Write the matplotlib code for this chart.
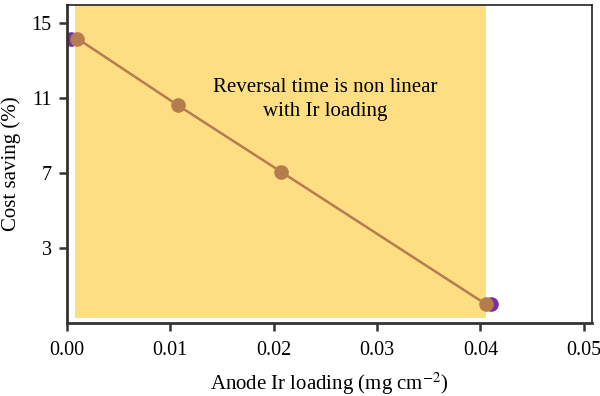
import matplotlib.pyplot as plt
from matplotlib.patches import Rectangle

# data
loading = [0.0010, 0.0107, 0.0207, 0.0405]
saving = [14.15, 10.6, 7.05, 0.0]
end_loading = [0.0004, 0.0410]
end_saving = [14.15, 0.0]
yticks = [3, 7, 11, 15]
xticks = [0.00, 0.01, 0.02, 0.03, 0.04, 0.05]

plt.rcParams['font.family'] = ['Liberation Serif', 'DejaVu Serif']
plt.rcParams['mathtext.fontset'] = 'stix'

fig = plt.figure(figsize=(6, 3.96), dpi=100)
ax = fig.add_axes([0.1117, 0.185, 0.875, 0.803])

ax.add_patch(Rectangle((0.00077, -0.77), 0.0398, 16.9, color='#fdde83', zorder=0, lw=0))

ax.plot(end_loading, end_saving, 'o', color='#7a2fa8', ms=9.5, zorder=2)
ax.plot(loading, saving, '-o', color='#b57c4e', lw=1.8, ms=9.5, zorder=3)

ax.text(0.0250, 10.9, 'Reversal time is non linear\nwith Ir loading', ha='center', va='center',
        fontsize=15, linespacing=1.3)

ax.set_xlim(0, 0.0508)
ax.set_ylim(-1, 15.95)
ax.set_xticks(xticks)
ax.set_xticklabels(['%.2f' % v for v in xticks])
ax.set_yticks(yticks)
ax.tick_params(labelsize=14.5, length=6, width=1.8, color='#333333', direction='out', pad=7)
ax.tick_params(axis='y', pad=5)

for s in ['left', 'bottom']:
    ax.spines[s].set_linewidth(2)
    ax.spines[s].set_color('#333333')
for s in ['top', 'right']:
    ax.spines[s].set_linewidth(1.2)
    ax.spines[s].set_color('#222222')

ax.set_xlabel('Anode Ir loading (mg cm$^{-2}$)', fontsize=15, labelpad=8)
ax.set_ylabel('Cost saving (%)', fontsize=15, labelpad=8)

fig.savefig('out.png', dpi=100)
